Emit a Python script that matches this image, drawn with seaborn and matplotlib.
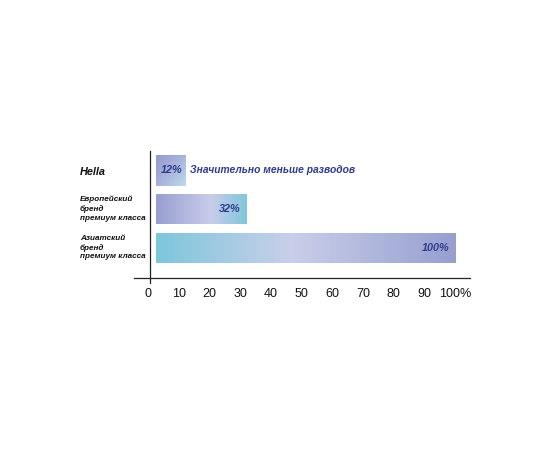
import numpy as np
import pandas as pd
import matplotlib
matplotlib.use("Agg")
import matplotlib.pyplot as plt
import matplotlib.transforms as mtransforms
from matplotlib.colors import LinearSegmentedColormap
import seaborn as sns

# ---- data ----
categories = ["Hella", "Европейский\nбренд\nпремиум класса", "Азиатский\nбренд\nпремиум класса"]
values = [12, 32, 100]
value_labels = ["12%", "32%", "100%"]
note = "Значительно меньше разводов"
tick_values = [0, 10, 20, 30, 40, 50, 60, 70, 80, 90, 100]
tick_labels = ["0", "10", "20", "30", "40", "50", "60", "70", "80", "90", "100%"]

sns.set_theme(style="white")
plt.rcParams["font.family"] = ["Liberation Sans", "DejaVu Sans"]

df = pd.DataFrame({"cat": categories, "val": values})

fig = plt.figure(figsize=(5.5, 4.5), dpi=100)
W, H = 550, 450
left_px, right_px, top_px, bot_px = 134, 470, 151, 283
ax = fig.add_axes([left_px / W, 1 - bot_px / H, (right_px - left_px) / W, (bot_px - top_px) / H])

sns.barplot(data=df, y="cat", x="val", orient="h", ax=ax, width=0.78, color="#aab0dd")

text_blue = "#2f3c8e"
gap = 2.5

# gradient stops per bar (left -> mid -> right)
grad_stops = [
    ["#929ace", "#a9b3dc", "#bcdcea"],
    ["#979ed0", "#c8cdea", "#80c6dc"],
    ["#7cc7dc", "#c9cfe9", "#979fd0"],
]
mid_pos = [0.5, 0.6, 0.45]

patches = list(ax.patches)[:len(values)]
for i, p in enumerate(patches):
    p.set_x(p.get_x() + gap)
    p.set_width(p.get_width() - gap)
    p.set_facecolor("none")
    p.set_edgecolor("none")
    x0, y0 = p.get_x(), p.get_y()
    x1, y1 = x0 + p.get_width(), y0 + p.get_height()
    cmap = LinearSegmentedColormap.from_list(
        f"g{i}", [(0, grad_stops[i][0]), (mid_pos[i], grad_stops[i][1]), (1, grad_stops[i][2])])
    nx, ny = 256, 32
    xx = np.linspace(0, 1, nx)[None, :]
    yy = np.linspace(0, 1, ny)[:, None]
    if i == 0:
        t = np.clip(0.55 * xx + 0.45 * yy, 0, 1)
    else:
        t = np.repeat(xx, ny, axis=0)
    im = ax.imshow(t, cmap=cmap, vmin=0, vmax=1, extent=[x0, x1, y1, y0],
                   aspect="auto", interpolation="bilinear", zorder=2)
    im.set_clip_path(p)

# value labels
for i, p in enumerate(patches):
    yc = p.get_y() + p.get_height() / 2
    x_end = p.get_x() + p.get_width()
    off = 0.8 if i == 0 else 1.8
    ax.text(x_end - off, yc, value_labels[i], ha="right", va="center",
            fontsize=7.8, fontweight="bold", fontstyle="italic", color=text_blue, zorder=3)
    if i == 0:
        ax.text(x_end + 1.8, yc, note, ha="left", va="center",
                fontsize=7.4, fontweight="bold", fontstyle="italic", color=text_blue, zorder=3)

# axes limits and spines
ax.set_xlim((left_px - 148) / 3.07, (right_px - 148) / 3.07)
ax.set_ylim(2.92, -0.506)
for s in ["top", "right"]:
    ax.spines[s].set_visible(False)
ax.spines["left"].set_position(("data", 0.5))
ax.spines["bottom"].set_position(("data", 2.79))
for s in ["left", "bottom"]:
    ax.spines[s].set_color("#222222")
    ax.spines[s].set_linewidth(0.9)

ax.set_xticks(tick_values)
ax.set_xticklabels(tick_labels, fontsize=9, color="#111111")
ax.tick_params(axis="x", length=0, pad=7)
ax.set_yticks([])
ax.set_xlabel("")
ax.set_ylabel("")

# category labels (left-aligned)
trans = mtransforms.blended_transform_factory(fig.transFigure, ax.transData)
for i, c in enumerate(categories):
    fs = 7.8 if i == 0 else 5.9
    ax.text(80 / W, i + (0.05 if i == 0 else 0), c, transform=trans, ha="left", va="center",
            fontsize=fs, fontweight="bold", fontstyle="italic", color="#111111",
            linespacing=1.35, clip_on=False)

fig.savefig("out.png", dpi=100, facecolor="white")
